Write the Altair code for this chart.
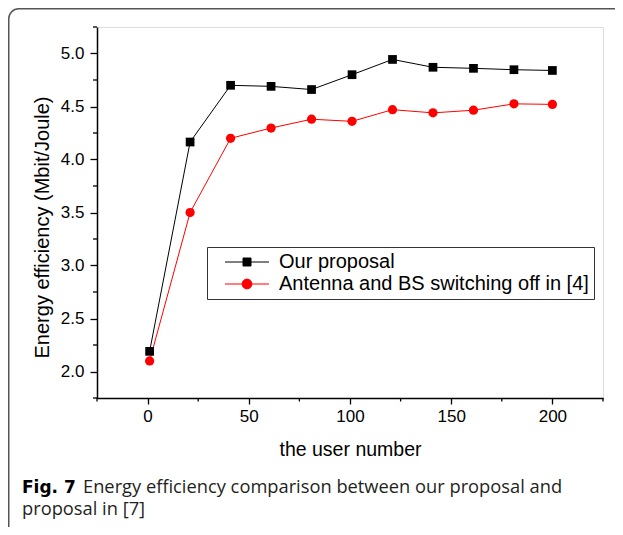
import altair as alt
import pandas as pd

# ---- data ----
users = [1, 21, 41, 61, 81, 101, 121, 141, 161, 181, 200]
ours = [2.19, 4.165, 4.70, 4.69, 4.66, 4.80, 4.944, 4.87, 4.86, 4.847, 4.84]
antenna = [2.10, 3.50, 4.20, 4.297, 4.38, 4.36, 4.47, 4.44, 4.465, 4.525, 4.52]
series_names = ["Our proposal", "Antenna and BS switching off in [4]"]
series_colors = ["#000000", "#ff0000"]
x_major = [0, 50, 100, 150, 200]
x_minor = [-25, 25, 75, 125, 175, 225]
y_major = [2.0, 2.5, 3.0, 3.5, 4.0, 4.5, 5.0]
y_minor = [1.75, 2.25, 2.75, 3.25, 3.75, 4.25, 4.75, 5.25]
x_title = "the user number"
y_title = "Energy efficiency (Mbit/Joule)"
caption_bold = "Fig. 7"
caption_line1 = "Energy efficiency comparison between our proposal and"
caption_line2 = "proposal in [7]"

df_ours = pd.DataFrame({"users": users, "value": ours, "series": series_names[0]})
df_ant = pd.DataFrame({"users": users, "value": antenna, "series": series_names[1]})
df_all = pd.concat([df_ours, df_ant], ignore_index=True)
df_xminor = pd.DataFrame({"users": x_minor})
df_yminor = pd.DataFrame({"value": y_minor})

FONT = "Liberation Sans"
W, H = 506, 371

x_enc = alt.X(
    "users:Q",
    scale=alt.Scale(domain=[-25, 225], nice=False, zero=False),
    axis=alt.Axis(
        values=x_major, tickSize=6, tickColor="black", tickWidth=1.3,
        domainColor="black", domainWidth=1.5, labelOverlap=False,
        labelFont=FONT, labelFontSize=17, labelColor="black", labelPadding=4,
        title=x_title, titleFont=FONT, titleFontSize=19.5, titleFontWeight="normal",
        titleColor="black", titleBaseline="alphabetic", titleY=57,
        grid=False,
    ),
)
y_enc = alt.Y(
    "value:Q",
    scale=alt.Scale(domain=[1.75, 5.25], nice=False, zero=False),
    axis=alt.Axis(
        values=y_major, format=".1f", tickSize=7, tickColor="black", tickWidth=1.3,
        domainColor="black", domainWidth=1.5, labelOverlap=False,
        labelFont=FONT, labelFontSize=17, labelColor="black", labelPadding=6,
        title=y_title, titleFont=FONT, titleFontSize=20, titleFontWeight="normal",
        titleColor="black", titleX=-55, titleY=200, titleAngle=-90,
        titleAlign="center", titleBaseline="middle",
        grid=False,
    ),
)

# decorative frame round the figure
frame = alt.Chart(pd.DataFrame({"a": [0]})).mark_rect(
    fill="transparent", stroke="#555555", strokeWidth=1.5, cornerRadius=10
).encode(x=alt.value(-88.25), x2=alt.value(700), y=alt.value(-18.25), y2=alt.value(700))

line_ours = alt.Chart(df_ours).mark_line(color=series_colors[0], strokeWidth=1).encode(x=x_enc, y=y_enc)
pts_ours = alt.Chart(df_ours).mark_point(
    shape="square", filled=True, color=series_colors[0], size=76, opacity=1
).encode(x="users:Q", y="value:Q")
line_ant = alt.Chart(df_ant).mark_line(color=series_colors[1], strokeWidth=1).encode(x="users:Q", y="value:Q")
pts_ant = alt.Chart(df_ant).mark_point(
    shape="circle", filled=True, color=series_colors[1], size=85, opacity=1
).encode(x="users:Q", y="value:Q")

# minor ticks (through the axis scales)
x_minor_ticks = alt.Chart(df_xminor).mark_rule(color="black", strokeWidth=1.3).encode(
    x="users:Q", y=alt.value(H), y2=alt.value(H + 3.5)
)
y_minor_ticks = alt.Chart(df_yminor).mark_rule(color="black", strokeWidth=1.3).encode(
    y="value:Q", x=alt.value(-4), x2=alt.value(0)
)

# legend symbols: line + marker
sq_path = "M-3.14,0H3.14M-0.57,-0.57H0.57V0.57H-0.57Z"
ci_path = "M-3.14,0H3.14M0.7,0A0.7,0.7,0,1,1,-0.7,0A0.7,0.7,0,1,1,0.7,0Z"
leg = alt.Legend(
    title=None, orient="none", legendX=110, legendY=220,
    symbolSize=196, symbolStrokeWidth=1, symbolOpacity=1, symbolOffset=25,
    labelFont=FONT, labelFontSize=20, labelColor="black", labelOffset=22, labelLimit=500,
    padding=5, rowPadding=2, strokeColor="#333333", fillColor="white",
)
legend_layer = alt.Chart(df_all).mark_point(filled=True, opacity=0).encode(
    x="users:Q", y="value:Q",
    color=alt.Color("series:N", scale=alt.Scale(domain=series_names, range=series_colors), legend=leg),
    stroke=alt.Stroke("series:N", scale=alt.Scale(domain=series_names, range=series_colors), legend=leg),
    shape=alt.Shape("series:N", scale=alt.Scale(domain=series_names, range=[sq_path, ci_path]), legend=leg),
)

cap_df = pd.DataFrame({"a": [0]})
cap_bold = alt.Chart(cap_df).mark_text(
    align="left", baseline="alphabetic", font="DejaVu Sans", fontSize=17, fontWeight="bold", color="black"
).encode(x=alt.value(-75), y=alt.value(466), text=alt.value(caption_bold))
cap_1 = alt.Chart(cap_df).mark_text(
    align="left", baseline="alphabetic", font="Open Sans", fontSize=18.3, color="#231f20"
).encode(x=alt.value(-14), y=alt.value(466), text=alt.value(caption_line1))
cap_2 = alt.Chart(cap_df).mark_text(
    align="left", baseline="alphabetic", font="Open Sans", fontSize=18.3, color="#231f20"
).encode(x=alt.value(-75), y=alt.value(488), text=alt.value(caption_line2))

chart = alt.layer(
    frame, line_ours, line_ant, pts_ours, pts_ant, legend_layer,
    x_minor_ticks, y_minor_ticks, cap_bold, cap_1, cap_2
).properties(
    width=W, height=H,
    autosize=alt.AutoSizeParams(type="none"),
    padding={"left": 89, "top": 19, "right": 12, "bottom": 129},
).configure_view(stroke=None).configure(background="white")

chart.save("out.html", embed_options={"renderer": "svg", "actions": False})
